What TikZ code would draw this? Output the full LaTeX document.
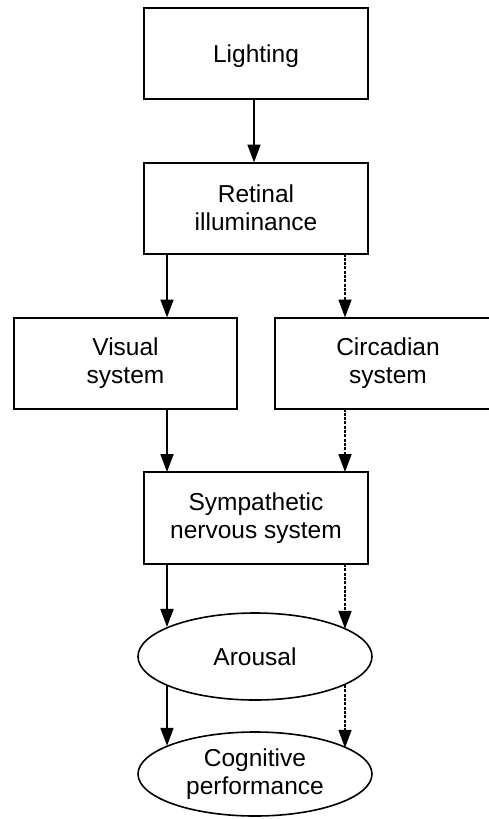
\documentclass[tikz,border=0pt]{standalone}
\usepackage{fontspec}
\setmainfont{Liberation Sans}
\usetikzlibrary{arrows.meta,shapes.geometric}
\begin{document}
\begin{tikzpicture}[x=1pt,y=1pt,
  txt/.style={align=center, font=\fontsize{24.5}{28}\selectfont},
  box/.style={txt, draw, line width=2pt, minimum width=224pt, minimum height=91pt,
    inner sep=0pt, outer sep=0pt, execute at begin node={\rule{0pt}{24pt}}},
  oval/.style={txt, ellipse, draw, line width=1.6pt, minimum width=234pt,
    inner sep=0pt, outer sep=0pt},
  flow/.style={line width=1.8pt, -{Triangle[length=18pt,width=13pt]}},
  weak/.style={flow, dash pattern=on 3pt off 1.3pt}
]
\useasboundingbox (0,0) rectangle (489,-819);
\clip (0,0) rectangle (489,-819);

% column positions of the connectors
\coordinate (colM) at (254,0);
\coordinate (colL) at (167,0);
\coordinate (colR) at (345,0);

% blocks
\node[box] (lit) at (256,-53.5) {Lighting};
\node[box] (ret) at (256,-208) {Retinal\\illuminance};
\node[box, minimum width=223pt] (vis) at (125.5,-363) {Visual\\system};
\node[box, minimum width=226pt] (cir) at (388,-363) {Circadian\\system};
\node[box, minimum height=92pt] (sym) at (256,-518) {Sympathetic\\nervous system};
\node[oval, minimum height=87pt] (aro) at (255,-656.5) {Arousal};
\node[oval, minimum height=84pt] (cog) at (255,-774) {Cognitive\\performance};

% connectors
\draw[flow] (lit.south -| colM) -- (ret.north -| colM);
\draw[flow] (ret.south -| colL) -- (vis.north -| colL);
\draw[weak] (ret.south -| colR) -- (cir.north -| colR);
\draw[flow] (vis.south -| colL) -- (sym.north -| colL);
\draw[weak] (cir.south -| colR) -- (sym.north -| colR);
\draw[flow] (sym.south -| colL) -- (aro.161.9 -| colL);
\draw[weak] (sym.south -| colR) -- (aro.17.2 -| colR);
\draw[flow] (aro.198.1 -| colL) -- (cog.162.5 -| colL);
\draw[weak] (aro.342.8 -| colR) -- (cog.16.6 -| colR);
\end{tikzpicture}
\end{document}
